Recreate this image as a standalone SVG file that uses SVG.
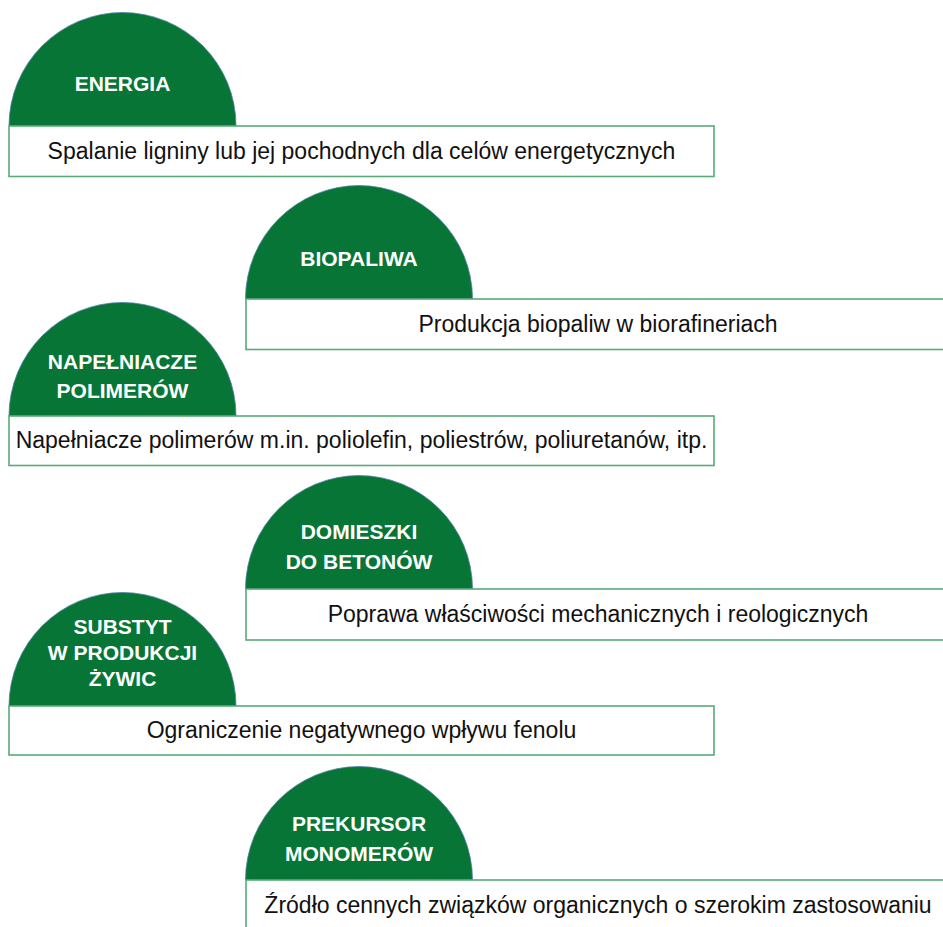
<svg xmlns="http://www.w3.org/2000/svg" width="943" height="927" viewBox="0 0 943 927">
<style>
.cap{fill:#077535;stroke:#4f7fa6;stroke-width:0.8}
.box{fill:#ffffff;stroke:#5aaa78;stroke-width:1.6}
.lbl{font-family:"Liberation Sans",Arial,sans-serif;font-weight:bold;font-size:21px;fill:#ffffff;text-anchor:middle}
.txt{font-family:"Liberation Sans",Arial,sans-serif;font-size:23px;fill:#111111;text-anchor:middle}
</style>
<rect width="943" height="927" fill="#ffffff"/>
<g id="energia">
<path class="cap" d="M9 126 A113.5 113.5 0 0 1 236 126 Z"/>
<rect class="box" x="9" y="126" width="705" height="50.5"/>
<text class="lbl" x="122.5" y="91">ENERGIA</text>
<text class="txt" x="361.5" y="159">Spalanie ligniny lub jej pochodnych dla celów energetycznych</text>
</g>
<g id="biopaliwa">
<path class="cap" d="M245.5 299 A113.5 113.5 0 0 1 472.5 299 Z"/>
<rect class="box" x="246" y="299" width="710" height="50.5"/>
<text class="lbl" x="359" y="266">BIOPALIWA</text>
<text class="txt" x="598" y="332">Produkcja biopaliw w biorafineriach</text>
</g>
<g id="napelniacze">
<path class="cap" d="M9 416 A113.5 113.5 0 0 1 236 416 Z"/>
<rect class="box" x="9" y="416" width="705" height="49.5"/>
<text class="lbl" x="122.5" y="369">NAPEŁNIACZE</text>
<text class="lbl" x="122.5" y="398">POLIMERÓW</text>
<text class="txt" x="361.5" y="448">Napełniacze polimerów m.in. poliolefin, poliestrów, poliuretanów, itp.</text>
</g>
<g id="domieszki">
<path class="cap" d="M245.5 589 A113.5 113.5 0 0 1 472.5 589 Z"/>
<rect class="box" x="246" y="589" width="710" height="51"/>
<text class="lbl" x="359" y="539">DOMIESZKI</text>
<text class="lbl" x="359" y="569">DO BETONÓW</text>
<text class="txt" x="598" y="622">Poprawa właściwości mechanicznych i reologicznych</text>
</g>
<g id="substyt">
<path class="cap" d="M9 706 A113.5 113.5 0 0 1 236 706 Z"/>
<rect class="box" x="9" y="706" width="705" height="49"/>
<text class="lbl" x="122.5" y="634">SUBSTYT</text>
<text class="lbl" x="122.5" y="660">W PRODUKCJI</text>
<text class="lbl" x="122.5" y="686">ŻYWIC</text>
<text class="txt" x="361.5" y="738">Ograniczenie negatywnego wpływu fenolu</text>
</g>
<g id="prekursor">
<path class="cap" d="M245.5 880 A113.5 113.5 0 0 1 472.5 880 Z"/>
<rect class="box" x="246" y="880" width="710" height="60"/>
<text class="lbl" x="359" y="831">PREKURSOR</text>
<text class="lbl" x="359" y="861">MONOMERÓW</text>
<text class="txt" x="598" y="913">Źródło cennych związków organicznych o szerokim zastosowaniu</text>
</g>
<g id="connectors"/>
</svg>
